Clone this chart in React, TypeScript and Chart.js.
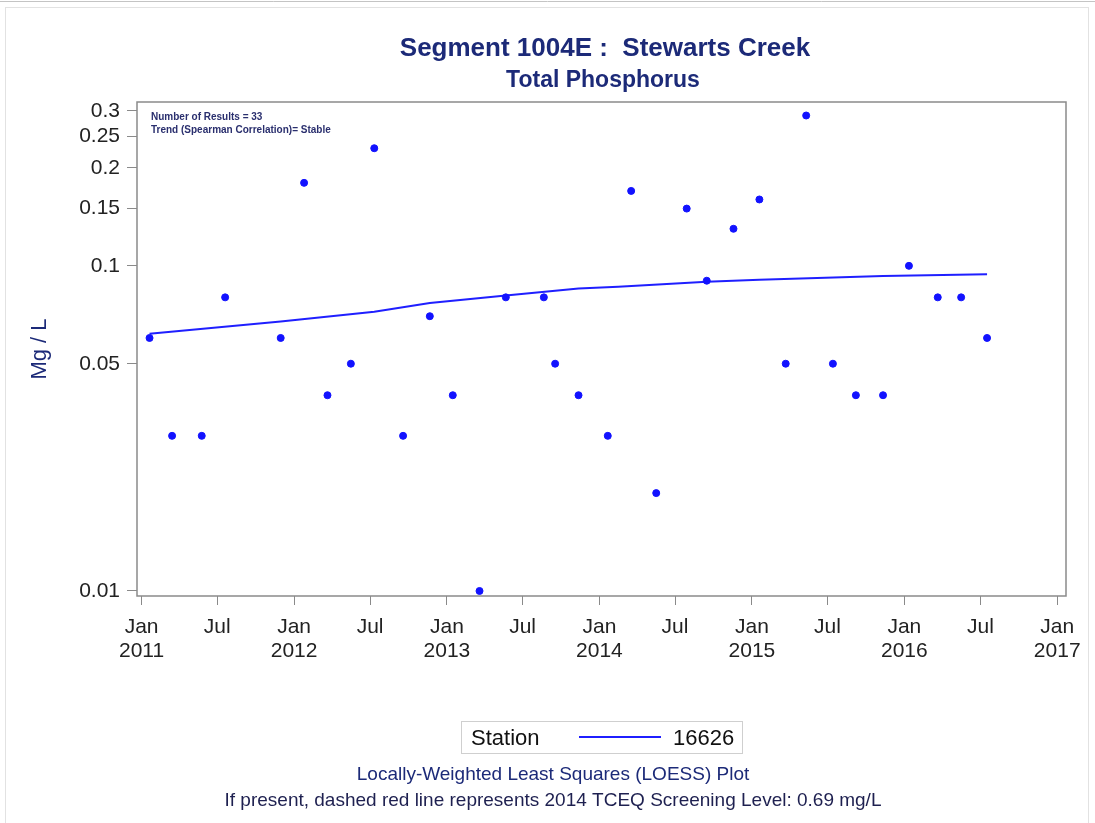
import React, { useEffect, useRef } from "react";
import { Chart, registerables } from "chart.js";

Chart.register(...registerables);

const FONT = "'Liberation Sans', Arial, Helvetica, sans-serif";
const NAVY = "#1c2a78";

// ---- Data ----
const sampleDates: string[] = [
  "2011-01-20", "2011-03-15", "2011-05-25", "2011-07-20", "2011-11-30",
  "2012-01-25", "2012-03-21", "2012-05-16", "2012-07-11", "2012-09-18",
  "2012-11-21", "2013-01-15", "2013-03-20", "2013-05-22", "2013-08-21",
  "2013-09-17", "2013-11-12", "2014-01-21", "2014-03-18", "2014-05-17",
  "2014-07-29", "2014-09-15", "2014-11-18", "2015-01-19", "2015-03-23",
  "2015-05-11", "2015-07-14", "2015-09-07", "2015-11-11", "2016-01-12",
  "2016-03-21", "2016-05-16", "2016-07-17",
];
const sampleValues: number[] = [
  0.06, 0.03, 0.03, 0.08, 0.06,
  0.18, 0.04, 0.05, 0.23, 0.03,
  0.07, 0.04, 0.01, 0.08, 0.08,
  0.05, 0.04, 0.03, 0.17, 0.02,
  0.15, 0.09, 0.13, 0.16, 0.05,
  0.29, 0.05, 0.04, 0.04, 0.10,
  0.08, 0.08, 0.06,
];

const loessDates: string[] = [
  "2011-01-20", "2011-11-30", "2012-07-11", "2012-11-21", "2013-05-22",
  "2013-11-12", "2014-02-15", "2014-09-15", "2015-01-19", "2015-11-11",
  "2016-07-17",
];
const loessValues: number[] = [
  0.0618, 0.0674, 0.0723, 0.0768, 0.081,
  0.0852, 0.0862, 0.0893, 0.0906, 0.0931,
  0.0943,
];

const xTickDates: string[] = [
  "2011-01-01", "2011-07-01", "2012-01-01", "2012-07-01", "2013-01-01",
  "2013-07-01", "2014-01-01", "2014-07-01", "2015-01-01", "2015-07-01",
  "2016-01-01", "2016-07-01", "2017-01-01",
];
const xTickLabels: (string | string[])[] = [
  ["Jan", "2011"], "Jul", ["Jan", "2012"], "Jul", ["Jan", "2013"],
  "Jul", ["Jan", "2014"], "Jul", ["Jan", "2015"], "Jul",
  ["Jan", "2016"], "Jul", ["Jan", "2017"],
];
const xMinDate = "2010-12-21";
const xMaxDate = "2017-01-22";

const yTicks: number[] = [0.01, 0.05, 0.1, 0.15, 0.2, 0.25, 0.3];
const yTickLabels: string[] = ["0.01", "0.05", "0.1", "0.15", "0.2", "0.25", "0.3"];
const yMin = 0.00965;
const yMax = 0.3191;

const titleText = "Segment 1004E :  Stewarts Creek";
const subtitleText = "Total Phosphorus";
const yTitle = "Mg / L";
const notes: string[] = ["Number of Results = 33", "Trend (Spearman Correlation)= Stable"];
const legendTitle = "Station";
const legendLabel = "16626";
const footnotes: string[] = [
  "Locally-Weighted Least Squares (LOESS) Plot",
  "If present, dashed red line represents 2014 TCEQ Screening Level: 0.69 mg/L",
];

const day = (s: string) => {
  const [y, m, d] = s.split("-").map(Number);
  return Date.UTC(y, m - 1, d) / 86400000;
};

const decorPlugin = {
  id: "decor",
  beforeDatasetsDraw(chart: any) {
    const { ctx, chartArea: a } = chart;
    ctx.save();
    ctx.strokeStyle = "#8a8a8a";
    ctx.lineWidth = 1.5;
    ctx.strokeRect(a.left, a.top, a.right - a.left, a.bottom - a.top);
    ctx.restore();
  },
  afterDraw(chart: any) {
    const { ctx, chartArea: a } = chart;
    ctx.save();
    // page frame
    ctx.strokeStyle = "#c4c4c4";
    ctx.lineWidth = 1;
    ctx.beginPath();
    ctx.moveTo(0, 1.5);
    ctx.lineTo(1095, 1.5);
    ctx.stroke();
    ctx.strokeStyle = "#e2e2e2";
    ctx.strokeRect(5.5, 7.5, 1083, 830);

    // titles
    ctx.fillStyle = NAVY;
    ctx.textAlign = "center";
    ctx.textBaseline = "alphabetic";
    ctx.font = `bold 26px ${FONT}`;
    ctx.fillText(titleText, 605, 56);
    ctx.font = `bold 23px ${FONT}`;
    ctx.fillText(subtitleText, 603, 86.5);

    // y title
    ctx.save();
    ctx.translate(45.5, (a.top + a.bottom) / 2);
    ctx.rotate(-Math.PI / 2);
    ctx.font = `22px ${FONT}`;
    ctx.fillText(yTitle, 0, 0);
    ctx.restore();

    // notes
    ctx.textAlign = "left";
    ctx.fillStyle = "#2a2f6e";
    ctx.font = `bold 10px ${FONT}`;
    ctx.fillText(notes[0], 151, 120);
    ctx.fillText(notes[1], 151, 132.5);

    // legend
    ctx.strokeStyle = "#cfcfcf";
    ctx.lineWidth = 1;
    ctx.strokeRect(461.5, 721.5, 281, 32);
    ctx.fillStyle = "#111111";
    ctx.font = `22px ${FONT}`;
    ctx.textAlign = "left";
    ctx.fillText(legendTitle, 471, 745);
    ctx.fillText(legendLabel, 673, 745);
    const ds = chart.data.datasets[0];
    ctx.strokeStyle = ds.borderColor;
    ctx.lineWidth = 2;
    ctx.beginPath();
    ctx.moveTo(579, 737);
    ctx.lineTo(661, 737);
    ctx.stroke();

    // footnotes
    ctx.textAlign = "center";
    ctx.font = `19px ${FONT}`;
    ctx.fillStyle = NAVY;
    ctx.fillText(footnotes[0], 553, 780);
    ctx.fillStyle = "#1e2050";
    ctx.fillText(footnotes[1], 553, 806);
    ctx.restore();
  },
};

export default function App() {
  const ref = useRef<HTMLCanvasElement | null>(null);

  useEffect(() => {
    if (!ref.current) return;
    const chart = new Chart(ref.current, {
      type: "scatter",
      data: {
        datasets: [
          {
            type: "line",
            label: legendLabel,
            data: loessDates.map((d, i) => ({ x: day(d), y: loessValues[i] })),
            borderColor: "#1f1fff",
            backgroundColor: "#1f1fff",
            borderWidth: 2,
            pointRadius: 0,
            fill: false,
            tension: 0,
            order: 2,
          } as any,
          {
            type: "scatter",
            label: "Results",
            data: sampleDates.map((d, i) => ({ x: day(d), y: sampleValues[i] })),
            backgroundColor: "#1212ff",
            borderColor: "#1212ff",
            pointRadius: 3.5,
            pointHoverRadius: 3.5,
            order: 1,
          },
        ],
      },
      options: {
        responsive: false,
        animation: false,
        devicePixelRatio: 1,
        layout: { padding: { top: 102, right: 29, bottom: 0, left: 0 } },
        plugins: {
          legend: { display: false },
          tooltip: { enabled: false },
          title: { display: false },
        },
        scales: {
          x: {
            type: "linear",
            bounds: "data",
            min: day(xMinDate),
            max: day(xMaxDate),
            afterBuildTicks: (s: any) => {
              s.ticks = xTickDates.map((d) => ({ value: day(d) }));
            },
            afterFit: (s: any) => {
              s.height = 823 - 596;
            },
            ticks: {
              autoSkip: false,
              maxRotation: 0,
              minRotation: 0,
              padding: 10,
              color: "#222222",
              font: { family: FONT, size: 21, lineHeight: 1.143 },
              callback: (_v: any, i: number) => xTickLabels[i],
            },
            grid: {
              display: true,
              drawOnChartArea: false,
              drawTicks: true,
              tickLength: 9,
              color: "#8a8a8a",
              lineWidth: 1,
            },
            border: { display: false },
          },
          y: {
            type: "logarithmic",
            bounds: "data",
            min: yMin,
            max: yMax,
            afterBuildTicks: (s: any) => {
              s.ticks = yTicks.map((v) => ({ value: v }));
            },
            afterFit: (s: any) => {
              s.width = 137;
            },
            ticks: {
              autoSkip: false,
              padding: 7,
              color: "#222222",
              font: { family: FONT, size: 21 },
              callback: (_v: any, i: number) => yTickLabels[i],
            },
            grid: {
              display: true,
              drawOnChartArea: false,
              drawTicks: true,
              tickLength: 10,
              color: "#8a8a8a",
              lineWidth: 1,
            },
            border: { display: false },
          },
        },
      } as any,
      plugins: [decorPlugin],
    });
    return () => chart.destroy();
  }, []);

  return (
    <div style={{ position: "absolute", left: 0, top: 0, width: 1095, height: 823, background: "#ffffff" }}>
      <canvas ref={ref} width={1095} height={823} style={{ display: "block", width: 1095, height: 823 }} />
    </div>
  );
}
